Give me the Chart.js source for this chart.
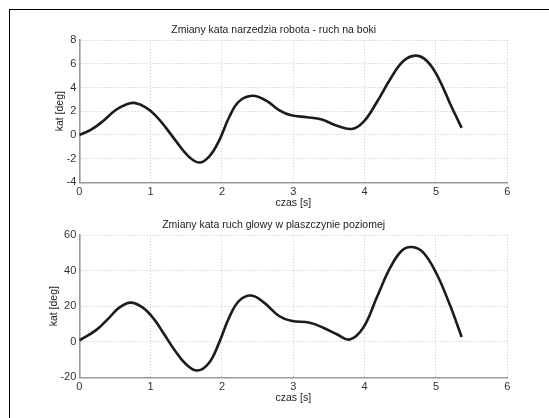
<!DOCTYPE html>
<html>
<head>
<meta charset="utf-8">
<script src="https://cdn.jsdelivr.net/npm/chart.js@4.4.1/dist/chart.umd.min.js"></script>
<style>
  body { margin: 0; background: #fff; }
  #wrap { position: relative; width: 549px; height: 418px; overflow: hidden; background: #fff; }
  #frame { position: absolute; left: 9px; top: 9px; width: 600px; height: 500px; border-left: 1px solid #000; border-top: 1px solid #000; }
  canvas { position: absolute; left: 0; }
</style>
</head>
<body>
<div id="wrap">
  <div id="frame"></div>
  <canvas id="chartTop" width="549" height="210" style="top:0px"></canvas>
  <canvas id="chartBottom" width="549" height="210" style="top:195px"></canvas>
</div>
<script>
// czas [s] and kat [deg]
var timeTop = [0.00, 0.16, 0.33, 0.51, 0.65, 0.77, 0.93, 1.07, 1.21, 1.35, 1.52, 1.68, 1.82, 1.96, 2.10, 2.24, 2.43, 2.62, 2.80, 2.97, 3.19, 3.40, 3.61, 3.82, 3.98, 4.17, 4.36, 4.54, 4.71, 4.87, 5.03, 5.20, 5.36];
var angleTop = [0.00, 0.42, 1.15, 2.10, 2.55, 2.70, 2.33, 1.63, 0.64, -0.48, -1.75, -2.33, -1.83, -0.48, 1.49, 2.83, 3.30, 2.89, 2.10, 1.65, 1.49, 1.29, 0.78, 0.50, 1.07, 2.75, 4.72, 6.21, 6.69, 6.26, 4.86, 2.61, 0.59];

var timeBottom = [0.00, 0.23, 0.42, 0.56, 0.72, 0.89, 1.05, 1.19, 1.33, 1.50, 1.66, 1.82, 1.96, 2.10, 2.24, 2.41, 2.59, 2.80, 2.97, 3.23, 3.42, 3.61, 3.79, 3.98, 4.17, 4.36, 4.52, 4.66, 4.82, 5.01, 5.20, 5.36];
var angleBottom = [0.8, 6.4, 13.6, 19.2, 22.0, 19.2, 12.6, 4.2, -4.3, -12.8, -16.2, -11.8, -0.5, 13.6, 23.0, 26.0, 22.0, 14.5, 11.8, 10.7, 7.9, 4.2, 1.3, 7.9, 24.9, 41.8, 51.2, 53.3, 50.3, 38.1, 20.2, 2.7];

var titleTop = "Zmiany kata narzedzia robota - ruch na boki";
var titleBottom = "Zmiany kata ruch glowy w plaszczynie poziomej";
var xLabel = "czas [s]";
var yLabel = "kat [deg]";

var fontFamily = "'Liberation Sans', Arial, Helvetica, sans-serif";

function makeChart(id, times, angles, title, yMin, yMax, yStep, yTitlePad) {
  var points = times.map(function (t, i) {
    return { x: t, y: angles[i] };
  });
  return new Chart(document.getElementById(id), {
    type: "line",
    data: {
      datasets: [
        {
          data: points,
          borderColor: "#1c1c1c",
          borderWidth: 2.6,
          pointRadius: 0,
          tension: 0.4,
          fill: false,
        },
      ],
    },
    options: {
      responsive: false,
      animation: false,
      layout: {
        padding: { left: 40, right: 41.7, top: 0, bottom: 0 },
      },
      plugins: {
        legend: { display: false },
        tooltip: { enabled: false },
        title: {
          display: true,
          text: title,
          color: "#222",
          font: { family: fontFamily, size: 10.5, weight: "normal" },
          padding: { top: 24, bottom: 3.5 },
        },
      },
      scales: {
        x: {
          type: "linear",
          min: 0,
          max: 6,
          ticks: {
            stepSize: 1,
            color: "#333",
            padding: 3,
            font: { family: fontFamily, size: 11 },
          },
          grid: { color: "#c8c8c8", drawTicks: false, lineWidth: 1 },
          border: { color: "#9a9a9a", width: 1.6, dash: [1, 2] },
          title: {
            display: true,
            text: xLabel,
            color: "#222",
            font: { family: fontFamily, size: 10.5 },
            padding: { top: 0, bottom: 1 },
          },
          afterFit: function (scale) {
            scale.height = 210 - 182.3;
          },
        },
        y: {
          min: yMin,
          max: yMax,
          ticks: {
            stepSize: yStep,
            color: "#333",
            padding: 3,
            font: { family: fontFamily, size: 11 },
          },
          grid: { color: "#c8c8c8", drawTicks: false, lineWidth: 1 },
          border: { color: "#9a9a9a", width: 1.6, dash: [1, 2] },
          title: {
            display: true,
            text: yLabel,
            color: "#222",
            font: { family: fontFamily, size: 10.5 },
            padding: { top: yTitlePad, bottom: 0 },
          },
          afterFit: function (scale) {
            scale.width = 79.3 - 40;
          },
        },
      },
    },
  });
}

makeChart("chartTop", timeTop, angleTop, titleTop, -4, 8, 2, 13.5);
makeChart("chartBottom", timeBottom, angleBottom, titleBottom, -20, 60, 20, 7.5);
</script>
</body>
</html>
